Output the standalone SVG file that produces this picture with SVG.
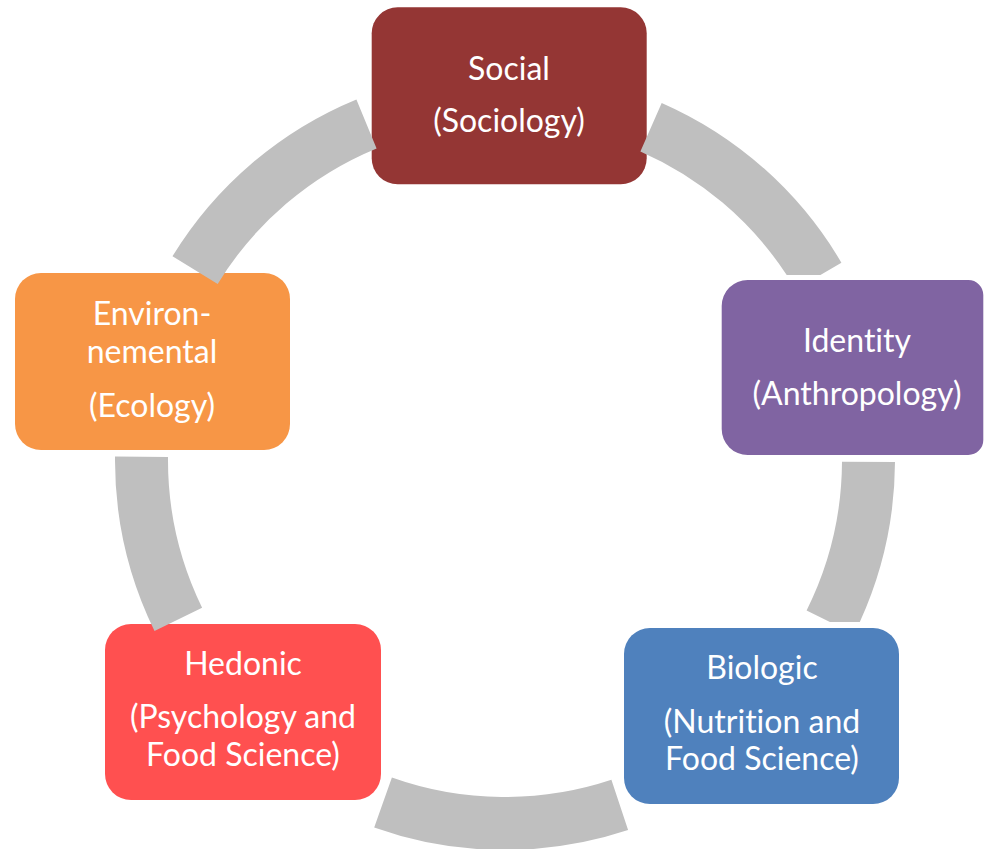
<svg xmlns="http://www.w3.org/2000/svg" width="984" height="849" viewBox="0 0 984 849">
  <style>
    .box-label { font-family: Lato, "Liberation Sans", Arial, sans-serif; font-size: 32px; fill: #ffffff; text-anchor: middle; font-variant-ligatures: none; font-feature-settings: "liga" 0, "clig" 0; }
    .arc { fill: #bfbfbf; }
  </style>
  <rect width="984" height="849" fill="#ffffff"/>
  <g id="node-social">
    <rect x="371.7" y="7.3" width="275" height="177" rx="26" ry="26" fill="#943634"/>
    <text class="box-label" x="509" y="80">Social</text>
    <text class="box-label" x="509" y="132">(Sociology)</text>
  </g>
  <g id="node-identity">
    <path d="M747.7 280 H968.3 A15 15 0 0 1 983.3 295 V440 A15 15 0 0 1 968.3 455 H747.7 A26 26 0 0 1 721.7 429 V306 A26 26 0 0 1 747.7 280 Z" fill="#8064a2"/>
    <text class="box-label" x="857" y="352">Identity</text>
    <text class="box-label" x="857" y="405">(Anthropology)</text>
  </g>
  <g id="node-biologic">
    <rect x="624" y="628" width="275" height="176" rx="26" ry="26" fill="#4f81bd"/>
    <text class="box-label" x="762" y="679">Biologic</text>
    <text class="box-label" x="762" y="733">(Nutrition and</text>
    <text class="box-label" x="762" y="770">Food Science)</text>
  </g>
  <g id="node-hedonic">
    <rect x="105" y="624" width="276" height="176" rx="26" ry="26" fill="#ff5050"/>
    <text class="box-label" x="243" y="675">Hedonic</text>
    <text class="box-label" x="243" y="728">(Psychology and</text>
    <text class="box-label" x="243" y="766">Food Science)</text>
  </g>
  <g id="node-environmental">
    <rect x="15" y="273" width="275" height="177" rx="26" ry="26" fill="#f79646"/>
    <text class="box-label" x="152" y="325">Environ-</text>
    <text class="box-label" x="152" y="363">nemental</text>
    <text class="box-label" x="152" y="417">(Ecology)</text>
  </g>
  <g id="connectors">
    <path class="arc" d="M172.5 256.2 A390 390 0 0 1 356.4 99.4 L376.6 148.4 A337 337 0 0 0 217.7 283.9 Z"/>
    <path class="arc" d="M661.7 102.9 A390 390 0 0 1 841.4 262.7 L820.4 275 L786.7 275 A337 337 0 0 0 640.4 151.4 Z"/>
    <path class="arc" d="M895 462 A390 390 0 0 1 859.8 622 L829.9 622 L806.6 610.4 A337 337 0 0 0 842 461.8 Z"/>
    <path class="arc" d="M628.1 830.1 A390 390 0 0 1 374.2 827.4 L391.9 777.5 A337 337 0 0 0 611.4 779.8 Z"/>
    <path class="arc" d="M154.5 631 A390 390 0 0 1 115 456.6 L168 457.1 A337 337 0 0 0 202.1 607.7 Z"/>
  </g>
</svg>
